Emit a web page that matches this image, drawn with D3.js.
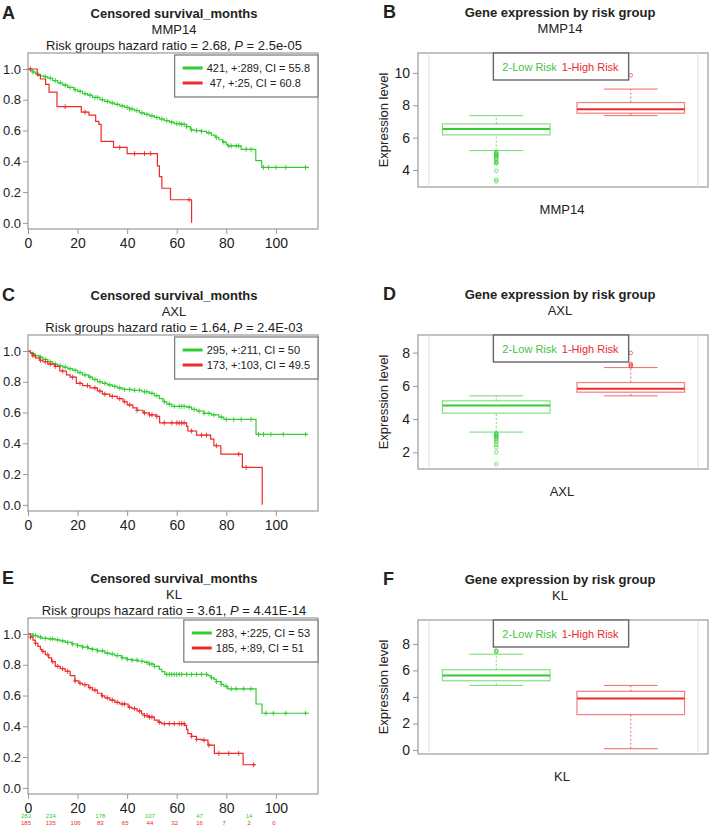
<!DOCTYPE html>
<html lang="en">
<head>
<meta charset="utf-8">
<title>Survival and expression by risk group</title>
<script src="https://cdnjs.cloudflare.com/ajax/libs/d3/7.8.5/d3.min.js"></script>
<style>
  body { margin: 0; background: #fff; }
  text { font-family: "Liberation Sans", Arial, sans-serif; fill: #222; }
</style>
</head>
<body>
<script>
// ---- survival panels (A, C, E) ----
var kmGenes = ["MMP14", "AXL", "KL"];
var kmHazard = ["2.68", "1.64", "3.61"];
var kmP = ["2.5e-05", "2.4E-03", "4.41E-14"];
var kmLegendLow = ["421, +:289, CI = 55.8", "295, +:211, CI = 50", "283, +:225, CI = 53"];
var kmLegendHigh = [" 47, +:25, CI = 60.8", "173, +:103, CI = 49.5", "185, +:89, CI = 51"];

// [month, survival after the drop]
var mmp14Low = [[0,1],[1,0.99],[2,0.98],[3,0.97],[4,0.965],[5,0.955],[6.5,0.95],[8,0.94],[10,0.925],[12,0.91],[14,0.895],[16,0.88],[18.5,0.865],[20,0.855],[22,0.84],[24,0.83],[26,0.815],[29,0.8],[31,0.79],[33,0.78],[35,0.77],[37,0.76],[39,0.75],[41,0.74],[43,0.73],[45,0.715],[47,0.705],[49,0.695],[51,0.685],[53,0.675],[55,0.665],[57,0.655],[59,0.645],[62,0.64],[64,0.625],[65.5,0.605],[67,0.6],[70,0.595],[72,0.585],[74,0.57],[75.5,0.555],[77,0.54],[78.5,0.525],[80,0.51],[80.6,0.5],[86,0.478],[91.9,0.405],[94.3,0.36]];
var mmp14LowEnd = 113.3;
var mmp14LowCens = [2,4,7,9,11,13,15,17,19,21,23,25,27,28,30,32,34,36,38,40,41,42,44,46,48,50,52,54,56,58,60,61,62,63,64,66,68,70,73,76,79,81,82,84,85,88,90,95,97,100,104,112];
var mmp14High = [[0,1],[3.7,0.96],[5,0.935],[7.1,0.9],[8.5,0.85],[11.7,0.755],[21.5,0.72],[24.6,0.7],[27.3,0.66],[28.6,0.64],[29.5,0.53],[34.5,0.49],[40,0.45],[52.2,0.37],[53,0.3],[54,0.225],[57.5,0.15],[66,0]];
var mmp14HighEnd = 66;
var mmp14HighCens = [1,15,23,37,43,47,49.5,65];

var axlLow = [[0,1],[1,0.99],[2,0.98],[3,0.97],[4.5,0.96],[6,0.945],[8,0.93],[10,0.915],[12,0.905],[14,0.895],[16,0.885],[18,0.875],[20,0.86],[22,0.845],[24.5,0.83],[26,0.815],[28,0.8],[30,0.79],[32,0.78],[34,0.77],[36,0.76],[38,0.75],[42,0.745],[46,0.735],[49,0.725],[51,0.71],[53,0.69],[54.5,0.67],[56,0.655],[58,0.64],[64,0.635],[66,0.62],[68,0.61],[71,0.595],[74,0.585],[77,0.57],[79,0.555],[92,0.458]];
var axlLowEnd = 113;
var axlLowCens = [2,3,5,7,9,11,13,15,17,19,21,23,25,27,29,31,33,35,37,39,41,43,45,47,48,50,52,55,57,59,61,62,63,65,67,69,71,73,75,78,80,83,86,90,93,95,98,103,112];
var axlHigh = [[0,1],[1,0.985],[2,0.97],[3,0.955],[4.7,0.94],[6,0.93],[8,0.915],[10.8,0.9],[12.8,0.87],[15.5,0.845],[17,0.83],[19.5,0.79],[22,0.775],[25,0.76],[28,0.74],[30,0.72],[33,0.705],[36,0.69],[38.3,0.67],[40,0.65],[42.3,0.63],[44,0.615],[46.4,0.598],[49,0.585],[51.7,0.575],[53.1,0.533],[64,0.51],[64.5,0.48],[68,0.453],[73.7,0.427],[75,0.384],[77.8,0.33],[86.5,0.243],[94.5,0]];
var axlHighEnd = 94.5;
var axlHighCens = [2,5,7,9,11,14,18,21,24,27,29,31,34,37,39,41,44,47,49,50,52,55,58,60,61,62,63,66,70,72,76,85,88];

var klLow = [[0,1],[2,0.99],[4,0.98],[5.6,0.972],[8,0.968],[11,0.962],[13,0.955],[15,0.945],[17.7,0.935],[20,0.925],[22,0.915],[24.4,0.905],[26,0.9],[28,0.89],[31,0.876],[33,0.87],[35,0.86],[37.8,0.845],[40,0.835],[42,0.83],[44.4,0.823],[47,0.815],[49,0.805],[51,0.79],[53,0.77],[54,0.755],[55.2,0.737],[72.6,0.73],[73.9,0.716],[75,0.705],[76,0.69],[77.9,0.673],[79,0.66],[80.6,0.643],[92,0.545],[94.4,0.485]];
var klLowEnd = 113.3;
var klLowCens = [2,3,5,7,9,10,12,14,16,18,20,22,24,26,28,30,32,34,36,38,40,42,44,46,48,49,50,51,56,57,58,59,60,61,62,64,66,68,70,72,74,76,78,80,82,84,87,90,96,99,104,112];
var klHigh = [[0,1],[1,0.98],[2,0.96],[2.9,0.94],[4,0.92],[5,0.9],[5.6,0.887],[7,0.865],[8.3,0.845],[9.5,0.82],[11,0.79],[13,0.775],[15,0.758],[17,0.73],[18.9,0.695],[20.5,0.68],[22,0.67],[24.4,0.652],[26,0.635],[28,0.615],[29.7,0.598],[31,0.585],[33,0.57],[35,0.556],[37,0.545],[40.4,0.524],[42,0.515],[44,0.5],[45.8,0.481],[47,0.47],[48.4,0.46],[51,0.44],[52.5,0.427],[53.8,0.417],[63.2,0.406],[64,0.38],[64.5,0.353],[66,0.335],[68,0.315],[70,0.31],[72.6,0.278],[75.2,0.224],[86.8,0.15]];
var klHighEnd = 92;
var klHighCens = [1,3,6,8,10,12,14,16,19,21,23,25,27,30,32,34,36,38,39,41,43,45,47,48,49,50,53,55,57,59,61,62,63,66,68,71,73,77,81,85,91];

// numbers at risk under panel E
var riskTimesLow = [0, 10, 30, 50, 70, 90];
var riskLow = [283, 234, 178, 107, 47, 14];
var riskTimesHigh = [0, 10, 20, 30, 40, 50, 60, 70, 80, 90, 100];
var riskHigh = [185, 135, 106, 83, 65, 44, 32, 16, 7, 2, 0];

var kmXTicks = [0, 20, 40, 60, 80, 100];
var kmYTicks = [0, 0.2, 0.4, 0.6, 0.8, 1.0];

// ---- expression panels (B, D, F) ----
var groups = ["2-Low Risk", "1-High Risk"];
// [lower whisker, Q1, median, Q3, upper whisker]
var mmp14BoxLow = [5.2, 6.17, 6.54, 6.85, 7.36];
var mmp14BoxHigh = [7.36, 7.51, 7.76, 8.17, 9.0];
var mmp14OutLow = [5.1, 5.05, 5.0, 4.95, 4.9, 4.85, 4.8, 4.7, 4.6, 4.5, 4.45, 4.4, 3.95, 3.4, 3.3];
var mmp14OutHigh = [9.85];
var axlBoxLow = [3.22, 4.36, 4.82, 5.1, 5.4];
var axlBoxHigh = [5.4, 5.62, 5.82, 6.2, 7.1];
var axlOutLow = [3.15, 3.1, 3.05, 3.0, 2.95, 2.9, 2.8, 2.7, 2.6, 2.45, 2.3, 2.0, 1.3];
var axlOutHigh = [7.18, 7.25, 7.32, 7.98];
var klBoxLow = [4.87, 5.22, 5.62, 6.05, 7.22];
var klBoxHigh = [0.1, 2.67, 3.88, 4.42, 4.87];
var klOutLow = [7.4, 7.45, 7.5, 8.05, 8.65];
var klOutHigh = [];

var green = "#33cc33", red = "#ee2a2a";

var svg = d3.select("body").append("svg")
  .attr("width", 709).attr("height", 826);

// ================= Kaplan-Meier panel =================
function kmPanel(top, label, idx, low, lowEnd, lowCens, high, highEnd, highCens, atRisk) {
  var g = svg.append("g").attr("transform", "translate(0," + top + ")");
  var x = d3.scaleLinear().domain([0, 117]).range([28, 318]);
  var y = d3.scaleLinear().domain([-0.04, 1.104]).range([229, 53]);

  g.append("text").attr("x", 2).attr("y", 19).attr("font-size", 18).attr("font-weight", "bold").text(label);
  g.append("text").attr("x", 174).attr("y", 18).attr("text-anchor", "middle")
    .attr("font-size", 13).attr("font-weight", "bold").text("Censored survival_months");
  g.append("text").attr("x", 174).attr("y", 34).attr("text-anchor", "middle")
    .attr("font-size", 13).text(kmGenes[idx]);
  var t = g.append("text").attr("x", 174).attr("y", 50).attr("text-anchor", "middle").attr("font-size", 13);
  t.append("tspan").text("Risk groups hazard ratio = " + kmHazard[idx] + ", ");
  t.append("tspan").attr("font-style", "italic").text("P");
  t.append("tspan").text(" = " + kmP[idx]);

  g.append("rect").attr("x", 28).attr("y", 53).attr("width", 290).attr("height", 176)
    .attr("fill", "none").attr("stroke", "#999").attr("stroke-width", 1.2);

  var line = d3.line().x(function(d) { return x(d[0]); }).y(function(d) { return y(d[1]); })
    .curve(d3.curveStepAfter);

  function survAt(knots, tm) {
    var s = 1;
    knots.forEach(function(k) { if (k[0] <= tm) s = k[1]; });
    return s;
  }

  function curve(knots, end, cens, col) {
    var pts = knots.slice();
    pts.push([end, knots[knots.length - 1][1]]);
    g.append("path").attr("d", line(pts)).attr("fill", "none")
      .attr("stroke", col).attr("stroke-width", 1.2);
    g.append("g").selectAll("path").data(cens).enter().append("path")
      .attr("d", function(d) {
        var cx = x(d), cy = y(survAt(knots, d));
        return "M" + (cx - 2) + "," + cy + "h4M" + cx + "," + (cy - 2.5) + "v5";
      })
      .attr("stroke", col).attr("stroke-width", 0.9).attr("fill", "none");
  }
  curve(low, lowEnd, lowCens, green);
  curve(high, highEnd, highCens, red);

  if (atRisk) {
    g.append("g").selectAll("text").data(riskLow).enter().append("text")
      .attr("x", function(d, i) { return x(riskTimesLow[i]) - 2; }).attr("y", 253)
      .attr("text-anchor", "middle").attr("font-size", 6).style("fill", green)
      .text(function(d) { return d; });
    g.append("g").selectAll("text").data(riskHigh).enter().append("text")
      .attr("x", function(d, i) { return x(riskTimesHigh[i]) - 2; }).attr("y", 260)
      .attr("text-anchor", "middle").attr("font-size", 6).style("fill", red)
      .text(function(d) { return d; });
  }

  var xa = g.append("g").attr("transform", "translate(0,229)")
    .call(d3.axisBottom(x).tickValues(kmXTicks).tickSize(5).tickPadding(4));
  xa.select(".domain").remove();
  xa.selectAll("line").attr("stroke", "#999");
  xa.selectAll("text").attr("font-size", 14).attr("fill", "#222");
  if (atRisk) {
    // the tick labels sit on top of the at-risk row, as in the original
    xa.selectAll("text").attr("stroke", "#fff").attr("stroke-width", 3).attr("paint-order", "stroke");
  }

  var ya = g.append("g").attr("transform", "translate(28,0)")
    .call(d3.axisLeft(y).tickValues(kmYTicks).tickFormat(d3.format(".1f")).tickSize(5).tickPadding(2));
  ya.select(".domain").remove();
  ya.selectAll("line").attr("stroke", "#999");
  ya.selectAll("text").attr("font-size", 13).attr("fill", "#222");

  // legend
  var lg = g.append("g");
  var t1 = lg.append("text").attr("y", 72).attr("font-size", 11).style("white-space", "pre").text(kmLegendLow[idx]);
  var t2 = lg.append("text").attr("y", 87).attr("font-size", 11).style("white-space", "pre").text(kmLegendHigh[idx]);
  var w = Math.max(t1.node().getComputedTextLength(), t2.node().getComputedTextLength());
  var bx = 318 - w - 40;
  lg.insert("rect", "text").attr("x", bx).attr("y", 55).attr("width", 318 - bx).attr("height", 42)
    .attr("fill", "#fff").attr("stroke", "#777").attr("stroke-width", 1.2);
  t1.attr("x", bx + 32); t2.attr("x", bx + 32);
  lg.append("line").attr("x1", bx + 8).attr("x2", bx + 28).attr("y1", 68).attr("y2", 68)
    .attr("stroke", green).attr("stroke-width", 3);
  lg.append("line").attr("x1", bx + 8).attr("x2", bx + 28).attr("y1", 83).attr("y2", 83)
    .attr("stroke", red).attr("stroke-width", 3);
}

// ================= box plot panel =================
function boxPanel(top, label, gene, boxLow, boxHigh, outLow, outHigh, yDomain, yTicks) {
  var g = svg.append("g").attr("transform", "translate(0," + top + ")");
  var x = d3.scaleBand().domain(groups).range([429, 698]).paddingInner(0.2).paddingOuter(0.1);
  var y = d3.scaleLinear().domain(yDomain).range([187, 53]);

  g.append("text").attr("x", 383).attr("y", 18).attr("font-size", 18).attr("font-weight", "bold").text(label);
  g.append("text").attr("x", 560).attr("y", 17).attr("text-anchor", "middle")
    .attr("font-size", 13).attr("font-weight", "bold").text("Gene expression by risk group");
  g.append("text").attr("x", 560).attr("y", 33).attr("text-anchor", "middle").attr("font-size", 13).text(gene);
  g.append("text").attr("x", 562).attr("y", 214).attr("text-anchor", "middle").attr("font-size", 13).text(gene);
  g.append("text").attr("transform", "translate(388,120) rotate(-90)").attr("text-anchor", "middle")
    .attr("font-size", 13).text("Expression level");

  g.append("rect").attr("x", 418).attr("y", 53).attr("width", 290).attr("height", 134)
    .attr("fill", "none").attr("stroke", "#999").attr("stroke-width", 1.2);
  [429, 698].forEach(function(v) {
    g.append("line").attr("x1", v).attr("x2", v).attr("y1", 53).attr("y2", 187)
      .attr("stroke", "#ddd").attr("stroke-width", 1);
  });

  var ya = g.append("g").attr("transform", "translate(418,0)")
    .call(d3.axisLeft(y).tickValues(yTicks).tickSize(5).tickPadding(3));
  ya.select(".domain").remove();
  ya.selectAll("line").attr("stroke", "#999");
  ya.selectAll("text").attr("font-size", 14).attr("fill", "#222");

  function box(name, st, outs, col) {
    var x0 = x(name), bw = x.bandwidth(), cx = x0 + bw / 2;
    var bg = g.append("g").attr("stroke", col).attr("fill", "none");
    bg.append("line").attr("x1", cx).attr("x2", cx).attr("y1", y(st[0])).attr("y2", y(st[1]))
      .attr("stroke-dasharray", "2,2").attr("stroke-opacity", 0.7);
    bg.append("line").attr("x1", cx).attr("x2", cx).attr("y1", y(st[3])).attr("y2", y(st[4]))
      .attr("stroke-dasharray", "2,2").attr("stroke-opacity", 0.7);
    [st[0], st[4]].forEach(function(v) {
      bg.append("line").attr("x1", cx - bw / 4).attr("x2", cx + bw / 4).attr("y1", y(v)).attr("y2", y(v))
        .attr("stroke-opacity", 0.7);
    });
    bg.append("rect").attr("x", x0).attr("y", y(st[3])).attr("width", bw).attr("height", y(st[1]) - y(st[3]))
      .attr("stroke-opacity", 0.6).attr("stroke-width", 1.2);
    bg.append("line").attr("x1", x0).attr("x2", x0 + bw).attr("y1", y(st[2])).attr("y2", y(st[2]))
      .attr("stroke-width", 2);
    bg.selectAll("circle").data(outs).enter().append("circle")
      .attr("cx", cx).attr("cy", function(d) { return y(d); }).attr("r", 1.8)
      .attr("stroke-width", 0.8).attr("stroke-opacity", 0.8);
  }
  box(groups[0], boxLow, outLow, green);
  box(groups[1], boxHigh, outHigh, red);

  // legend
  var lg = g.append("g");
  var a = lg.append("text").attr("y", 71).attr("font-size", 11).style("fill", "#44c444").text(groups[0]);
  var b = lg.append("text").attr("y", 71).attr("font-size", 11).style("fill", red).text(groups[1]);
  var wa = a.node().getComputedTextLength(), wb = b.node().getComputedTextLength();
  var lw = wa + wb + 24, lx = 561 - lw / 2;
  lg.insert("rect", "text").attr("x", lx).attr("y", 53).attr("width", lw).attr("height", 27)
    .attr("fill", "#fff").attr("stroke", "#666").attr("stroke-width", 1.4);
  a.attr("x", lx + 9);
  b.attr("x", lx + 9 + wa + 5);
}

kmPanel(0, "A", 0, mmp14Low, mmp14LowEnd, mmp14LowCens, mmp14High, mmp14HighEnd, mmp14HighCens, false);
kmPanel(282, "C", 1, axlLow, axlLowEnd, axlLowCens, axlHigh, axlHighEnd, axlHighCens, false);
kmPanel(565, "E", 2, klLow, klLowEnd, klLowCens, klHigh, klHighEnd, klHighCens, true);

boxPanel(0, "B", "MMP14", mmp14BoxLow, mmp14BoxHigh, mmp14OutLow, mmp14OutHigh, [2.95, 11.23], [4, 6, 8, 10]);
boxPanel(282, "D", "AXL", axlBoxLow, axlBoxHigh, axlOutLow, axlOutHigh, [1.0, 9.06], [2, 4, 6, 8]);
boxPanel(567, "F", "KL", klBoxLow, klBoxHigh, klOutLow, klOutHigh, [-0.3, 9.8], [0, 2, 4, 6, 8]);
</script>
</body>
</html>
